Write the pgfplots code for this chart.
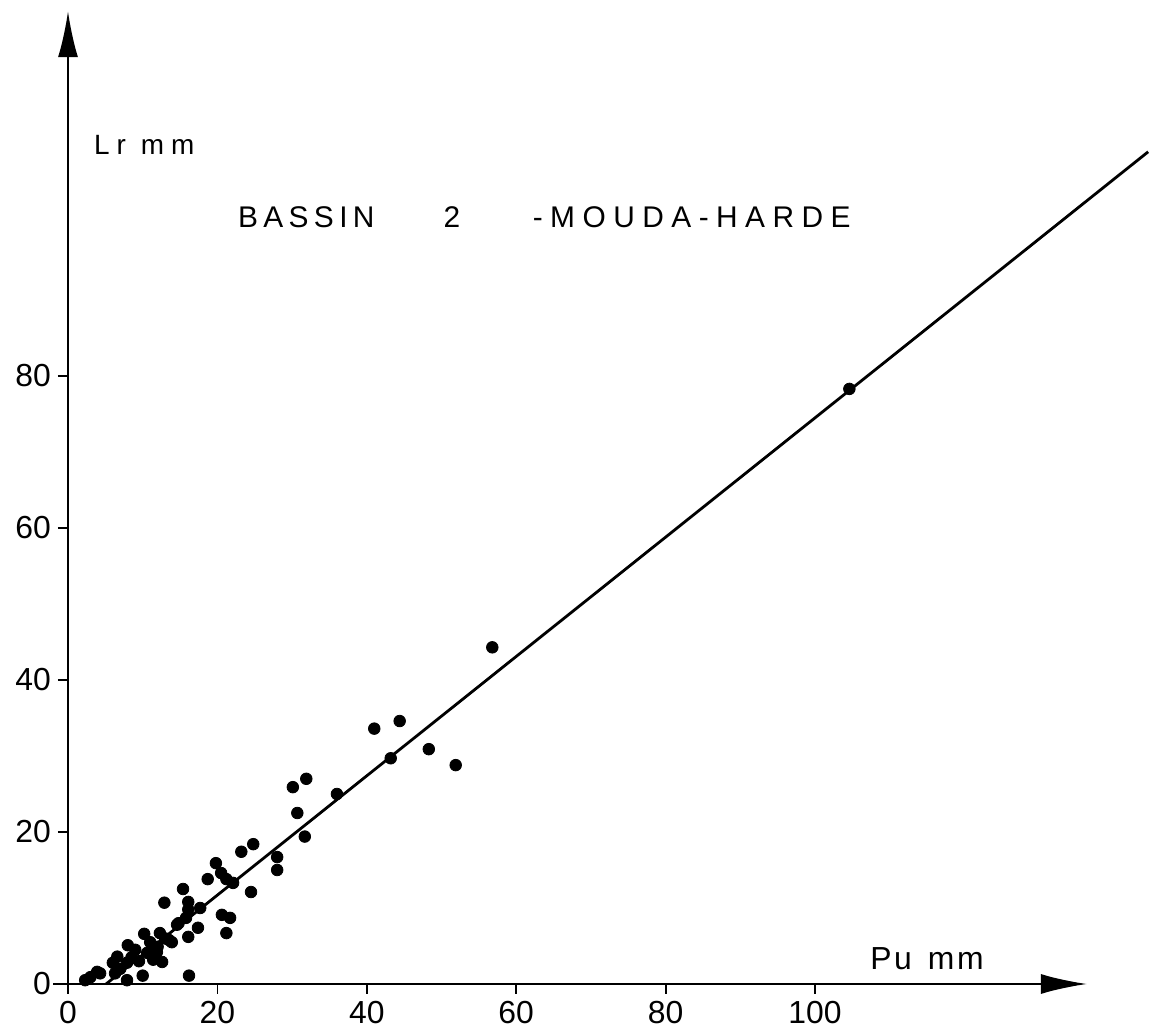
\documentclass[border=0pt]{standalone}
\usepackage{pgfplots}
\pgfplotsset{compat=1.18}
\usetikzlibrary{arrows.meta}
\usepackage{fontspec}
\setmainfont{Liberation Sans}
\newfontfamily\spA[LetterSpace=18]{Liberation Sans}
\newfontfamily\spB[LetterSpace=25]{Liberation Sans}
\newfontfamily\spC[LetterSpace=25]{Liberation Sans}
\newfontfamily\spD[LetterSpace=8]{Liberation Sans}
\begin{document}
\begin{tikzpicture}
\useasboundingbox (-34bp,-23bp) rectangle (546.5bp,492bp);
\begin{axis}[
  anchor=origin, at={(0,0)},
  x=3.735bp, y=3.8bp,
  xmin=-2, xmax=136.4, ymin=-0.8, ymax=128,
  axis lines=middle,
  clip=false,
  hide obscured x ticks=false, hide obscured y ticks=false,
  xtick={0,20,...,100}, ytick={0,20,...,80},
  tick align=outside,
  major tick length=5bp,
  axis line style={line width=1bp},
  every inner x axis line/.append style={-{Latex[length=23bp,width=10bp]}},
  every inner y axis line/.append style={-{Latex[length=23bp,width=10bp]}},
  tick style={line width=0.9bp, black},
  /pgf/number format/assume math mode=true,
  ticklabel style={font=\fontsize{16}{17}\selectfont},
]
\addplot[only marks, mark=*, mark size=2.9bp, black] coordinates {
(104.6,78.3) (56.8,44.3) (44.4,34.6) (41.0,33.6) (48.3,30.9) (43.2,29.7)
(51.9,28.8) (36.0,25.0) (31.9,27.0) (30.1,25.9) (30.7,22.5) (31.7,19.4)
(24.8,18.4) (23.2,17.4) (28.0,16.7) (28.0,15.0) (19.8,15.9) (18.7,13.8)
(20.5,14.6) (21.2,13.8) (22.1,13.3) (24.5,12.1) (15.4,12.5) (12.9,10.7)
(16.1,10.8) (17.7,10.0) (16.1,9.8) (20.6,9.1) (21.7,8.7) (21.2,6.7)
(17.4,7.4) (16.1,6.2) (14.6,7.8) (15.8,8.7) (12.3,6.7) (10.2,6.6)
(13.9,5.5) (13.0,6.0) (11.9,4.2) (8.0,5.1) (9.0,4.5) (10.6,4.1)
(12.6,2.9) (11.4,3.2) (6.6,3.6) (6.0,2.8) (7.9,2.8) (6.3,1.4)
(3.9,1.6) (3.0,0.9) (2.3,0.5) (7.9,0.5) (10.0,1.1) (16.2,1.1)
(4.3,1.4) (9.5,3.0) (11.0,5.5) (8.5,3.5) (7.0,2.0) (12.0,4.9)
(13.5,5.8) (14.8,8.0)
};
\addplot[black, line width=1.4bp] coordinates {(5.1,0) (144.6,109.5)};
\node[font=\spA\fontsize{15}{16}\selectfont] at (axis cs:31.9,100.9) {BASSIN};
\node[font=\fontsize{15}{16}\selectfont] at (axis cs:51.4,100.9) {2};
\node[font=\spB\fontsize{15}{16}\selectfont] at (axis cs:83.5,100.9) {-MOUDA-HARDE};
\node[font=\spC\fontsize{14}{15}\selectfont] at (axis cs:10.2,110.4) {Lr\hspace{7.5bp}mm};
\node[font=\spD\fontsize{16}{17}\selectfont] at (axis cs:115.0,3.3) {Pu\hspace{8bp}mm};
\end{axis}
\end{tikzpicture}
\end{document}
